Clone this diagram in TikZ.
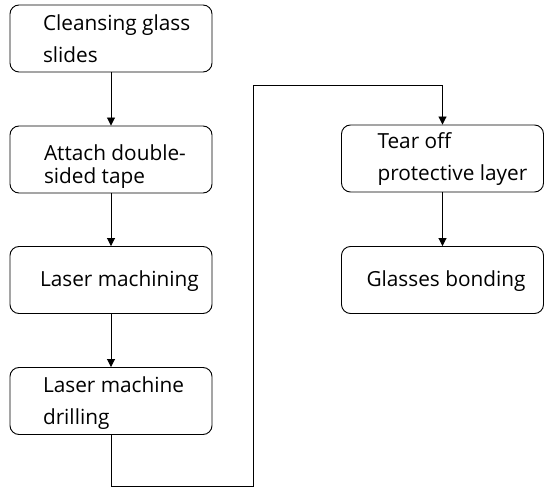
\documentclass[tikz,border=0pt]{standalone}
\usepackage{fontspec}
\setmainfont{Open Sans}
\usetikzlibrary{arrows.meta}
\newcommand\bxtxt[3]{\raisebox{-#2}[\height][\depth]{\begin{tabular}{@{\hspace{#1}}p{\dimexpr202pt-#1\relax}@{}}#3\end{tabular}}}
\begin{document}
\begin{tikzpicture}[x=1pt,y=1pt,
  stepbox/.style={draw, line width=0.9pt, rounded corners=9pt, inner xsep=0pt, inner ysep=0pt,
    minimum width=202pt, minimum height=67pt, font=\fontsize{20.8}{32}\selectfont},
  arr/.style={line width=0.9pt, -{Triangle[length=8pt,width=8pt]}},
  ln/.style={line width=0.9pt}]
\useasboundingbox (0,0) rectangle (544,488);
\node[stepbox] (b1) at (111,449.5) {\bxtxt{33pt}{2pt}{Cleansing glass\\slides}};
\node[stepbox] (b2) at (111,328.5) {\bxtxt{34pt}{6pt}{Attach double-\\[-9pt]sided tape}};
\node[stepbox] (b3) at (111,208) {\bxtxt{30pt}{0pt}{Laser machining}};
\node[stepbox] (b4) at (111,87) {\bxtxt{33pt}{1pt}{Laser machine\\drilling}};
\node[stepbox] (b5) at (442.5,329.5) {\bxtxt{36pt}{0pt}{Tear off\\protective layer}};
\node[stepbox] (b6) at (442.5,208) {\bxtxt{25pt}{0pt}{Glasses bonding}};
\coordinate (c1) at (111,2);
\coordinate (c2) at (253,2);
\coordinate (c3) at (253,403);
\coordinate (c4) at (442.5,403);
\draw[arr] (b1) -- (b2);
\draw[arr] (b2) -- (b3);
\draw[arr] (b3) -- (b4);
\draw[arr] (b4.south) -- (c1) -- (c2) -- (c3) -- (c4) -- (b5.north);
\draw[arr] (b5) -- (b6);
\end{tikzpicture}
\end{document}
